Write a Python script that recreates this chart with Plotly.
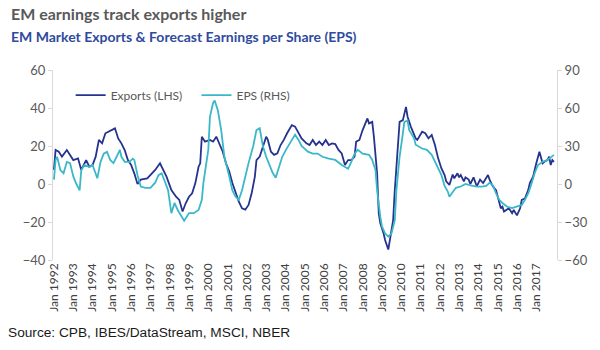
import plotly.graph_objects as go

# ---------------- data ----------------
export_dates = [
    "1992-01", "1992-02", "1992-04", "1992-06", "1992-09", "1992-11", "1993-01", "1993-04", "1993-06", "1993-09",
    "1993-11", "1994-01", "1994-03", "1994-05", "1994-07", "1994-09", "1994-11", "1995-03", "1995-05", "1995-07",
    "1995-09", "1995-11", "1996-01", "1996-03", "1996-05", "1996-07", "1996-11", "1997-04", "1997-07", "1997-09",
    "1997-11", "1998-02", "1998-05", "1998-07", "1998-09", "1998-11", "1999-01", "1999-03", "1999-05", "1999-07",
    "1999-08", "1999-09", "1999-11", "2000-02", "2000-04", "2000-06", "2000-08", "2000-10", "2000-12", "2001-02",
    "2001-04", "2001-06", "2001-08", "2001-10", "2001-12", "2002-02", "2002-04", "2002-06", "2002-07", "2002-09",
    "2002-11", "2003-01", "2003-02", "2003-04", "2003-06", "2003-08", "2003-10", "2003-12", "2004-02", "2004-05",
    "2004-07", "2004-09", "2004-11", "2005-02", "2005-04", "2005-06", "2005-08", "2005-10", "2005-12", "2006-02",
    "2006-04", "2006-06", "2006-08", "2006-10", "2006-12", "2007-02", "2007-04", "2007-06", "2007-08", "2007-09",
    "2007-11", "2008-01", "2008-03", "2008-04", "2008-05", "2008-07", "2008-08", "2008-10", "2008-11", "2008-12",
    "2009-02", "2009-03", "2009-05", "2009-06", "2009-08", "2009-09", "2009-11", "2009-12", "2010-02", "2010-04",
    "2010-05", "2010-07", "2010-10", "2010-11", "2011-02", "2011-04", "2011-06", "2011-08", "2011-10", "2011-12",
    "2012-02", "2012-04", "2012-05", "2012-07", "2012-09", "2012-10", "2012-12", "2013-01", "2013-02", "2013-04",
    "2013-05", "2013-07", "2013-08", "2013-10", "2013-12", "2014-02", "2014-04", "2014-06", "2014-07", "2014-08",
    "2014-10", "2014-12", "2015-01", "2015-03", "2015-04", "2015-05", "2015-08", "2015-10", "2015-11", "2016-01",
    "2016-03", "2016-04", "2016-06", "2016-08", "2016-09", "2016-11", "2017-01", "2017-02", "2017-03", "2017-05",
    "2017-06", "2017-08", "2017-09", "2017-10", "2017-11", "2017-12",
]
export_values = [
    7.4, 17.9, 17, 14.4, 17.9, 15.3, 12.6, 13.5, 7.4, 12.6,
    9.1, 10, 14.4, 23.2, 21.4, 26.7, 27.5, 29.3, 24, 21.4,
    17.9, 12.6, 10, 5.6, 0, 2.3, 3, 7.4, 10.9, 7.4,
    3.9, -3.2, -6.7, -8.4, -14.5, -10, -6.7, -4.9, 0.5, 9.1,
    10.9, 24.9, 22.3, 23.2, 22.3, 24.9, 21.4, 17, 10.9, 6.5,
    0.5, -4.9, -9.3, -12.8, -13.5, -11, -4.9, 3.9, 12.6, 14.4,
    19.6, 24.9, 23.2, 17, 15.3, 16.1, 20.5, 23.2, 26.7, 31,
    30.2, 26.7, 24, 21.4, 20.5, 23.2, 20.5, 22.3, 20.5, 23.2,
    20.5, 21.4, 21, 17.9, 16.1, 10, 12.6, 12.6, 14.4, 22.3,
    23.2, 28.4, 31.9, 34.5, 31.9, 32.7, 24.9, 5.6, -15.4, -20.7,
    -26, -29.5, -34.5, -29.5, -19, -3.2, 17.9, 32.7, 33.6, 40.6,
    35.4, 30.2, 24, 23.2, 27.5, 26.7, 24, 25.8, 20.5, 13.5,
    8.2, 4.7, 1.4, -0.5, 5, 3, 5.6, 3.5, 4.7, 1.4,
    3.5, 2.3, 0, 3.5, -1.2, 2.3, 0.5, 3, 4.7, 2.3,
    -1.2, -3.2, -6.7, -12.8, -11.9, -14.5, -12.8, -15.4, -13.7, -16.5,
    -12.8, -8.4, -7.6, -3.2, 0.5, 3.9, 10.9, 14.4, 17, 10.9,
    11.7, 12.6, 14.4, 10, 12.6, 11.7,
]

eps_dates = [
    "1992-01", "1992-02", "1992-03", "1992-05", "1992-07", "1992-09", "1992-11", "1993-01", "1993-03", "1993-05",
    "1993-06", "1993-08", "1993-11", "1994-01", "1994-04", "1994-06", "1994-08", "1994-10", "1994-12", "1995-02",
    "1995-04", "1995-06", "1995-07", "1995-09", "1995-12", "1996-02", "1996-03", "1996-05", "1996-07", "1996-10",
    "1997-01", "1997-04", "1997-06", "1997-08", "1997-10", "1997-12", "1998-02", "1998-04", "1998-06", "1998-10",
    "1999-01", "1999-04", "1999-07", "1999-09", "1999-10", "2000-01", "2000-02", "2000-04", "2000-05", "2000-07",
    "2000-09", "2000-11", "2001-02", "2001-04", "2001-06", "2001-08", "2001-10", "2001-12", "2002-02", "2002-05",
    "2002-07", "2002-09", "2002-11", "2003-01", "2003-03", "2003-05", "2003-07", "2003-09", "2003-11", "2004-02",
    "2004-05", "2004-07", "2004-09", "2004-11", "2005-03", "2005-06", "2005-09", "2005-12", "2006-04", "2006-08",
    "2006-12", "2007-04", "2007-06", "2007-08", "2007-10", "2008-01", "2008-05", "2008-07", "2008-09", "2008-10",
    "2008-12", "2009-01", "2009-03", "2009-05", "2009-07", "2009-09", "2009-10", "2009-12", "2010-02", "2010-03",
    "2010-05", "2010-06", "2010-09", "2010-10", "2011-02", "2011-05", "2011-08", "2011-11", "2012-02", "2012-04",
    "2012-06", "2012-07", "2012-09", "2012-11", "2013-02", "2013-05", "2013-08", "2013-12", "2014-03", "2014-06",
    "2014-08", "2014-10", "2014-12", "2015-02", "2015-04", "2015-07", "2015-10", "2016-01", "2016-04", "2016-06",
    "2016-08", "2016-10", "2016-12", "2017-02", "2017-05", "2017-08", "2017-11", "2017-12",
]
eps_values = [
    3.5, 19, 21.5, 11, 8.5, 17.5, 16.5, 6, 0, -5,
    11, 15, 13.5, 15, 4.5, 17.5, 24, 25.5, 19, 16.5,
    21.5, 27, 21.5, 17.5, 17.5, 20, 19, 7, -2, -3,
    -3, 1, 7, 8.5, 2, -5, -23, -15, -20.5, -29,
    -23, -23, -20.5, -12.5, 1, 27, 53, 64, 66, 58,
    42.5, 21.5, 6, -5, -10, -12.5, -5, 6, 16.5, 30,
    42.5, 44, 29.5, 21.5, 15.5, 9, 5, 13, 21.5, 28.5,
    35, 39, 35, 30, 25.5, 24, 24, 21.5, 20, 19,
    15, 12, 17.5, 24, 27, 24, 23, 19, 11, -5,
    -26, -33.5, -39, -41.5, -39, -28.5, -5, 21.5, 40, 49,
    50, 42.5, 36, 31, 28, 27, 23, 15, 7, -1.5,
    -6, -10, -6, -3, -2, 0, -1, -2, -2, -1.5,
    1, -1, -7.5, -12.5, -15, -18, -19, -18, -16.5, -12.5,
    -7.5, 0, 8.5, 15, 17.5, 19, 21.5, 23,
]

year_ticks = [f"{y}-01-01" for y in range(1992, 2018)]
year_labels = [f"Jan {y}" for y in range(1992, 2018)]
left_ticks = [-40, -20, 0, 20, 40, 60]
right_ticks = [-60, -30, 0, 30, 60, 90]

# ---------------- style ----------------
EXP_COLOR = "#25338f"
EPS_COLOR = "#3bb8c8"
AXIS_GREY = "#d9d9d9"
TEXT_GREY = "#595959"
FONT = "Lato"
X_RANGE = ["1991-12-14", "2018-01-28"]

fig = go.Figure()
fig.add_trace(go.Scatter(x=export_dates, y=export_values, name="Exports (LHS)\u00a0\u00a0\u00a0", mode="lines",
                         line=dict(color=EXP_COLOR, width=1.8), yaxis="y"))
fig.add_trace(go.Scatter(x=eps_dates, y=eps_values, name="EPS (RHS)", mode="lines",
                         line=dict(color=EPS_COLOR, width=1.8), yaxis="y2"))

fig.update_layout(
    width=600, height=350,
    margin=dict(l=53, r=37, t=70, b=90),
    paper_bgcolor="white", plot_bgcolor="white",
    font=dict(family=FONT, color=TEXT_GREY, size=12),
    showlegend=True,
    legend=dict(orientation="h", x=0.035, y=0.868, xanchor="left", yanchor="middle",
                bgcolor="rgba(0,0,0,0)", font=dict(size=12, color=TEXT_GREY, family=FONT),
                traceorder="normal"),
    xaxis=dict(type="date", range=X_RANGE, tickvals=year_ticks, ticktext=year_labels,
               tickangle=-90, showgrid=False, showline=False, zeroline=False, ticks="",
               tickfont=dict(size=12, color="#404040", family=FONT)),
    xaxis2=dict(type="date", range=X_RANGE, overlaying="x", anchor="free", position=0.4,
                showline=True, linecolor=AXIS_GREY, linewidth=1, ticks="outside", ticklen=4,
                tickcolor=AXIS_GREY, tickvals=year_ticks, showticklabels=False, showgrid=False,
                zeroline=False),
    yaxis=dict(range=[-40, 60], tickvals=left_ticks, showgrid=False, zeroline=False,
               showline=True, linecolor=AXIS_GREY, ticks="outside", ticklen=4, tickcolor=AXIS_GREY,
               tickfont=dict(size=13, color=TEXT_GREY, family=FONT)),
    yaxis2=dict(range=[-60, 90], tickvals=right_ticks, overlaying="y", side="right",
                showgrid=False, zeroline=False, showline=True, linecolor=AXIS_GREY,
                ticks="outside", ticklen=4, tickcolor=AXIS_GREY,
                tickfont=dict(size=13, color=TEXT_GREY, family=FONT)),
)

fig.add_annotation(text="<b>EM earnings track exports higher</b>", xref="paper", yref="paper",
                   x=-0.088, y=1.295, xanchor="left", yanchor="middle", showarrow=False,
                   font=dict(size=16, color=TEXT_GREY, family=FONT))
fig.add_annotation(text="<b>EM Market Exports &amp; Forecast Earnings per Share (EPS)</b>", xref="paper", yref="paper",
                   x=-0.088, y=1.174, xanchor="left", yanchor="middle", showarrow=False,
                   font=dict(size=14, color="#2f4a9e", family=FONT))
fig.add_annotation(text="Source: CPB, IBES/DataStream, MSCI, NBER", xref="paper", yref="paper",
                   x=-0.094, y=-0.384, xanchor="left", yanchor="middle", showarrow=False,
                   font=dict(size=13.7, color="#1a1a1a", family="Liberation Sans"))

fig.write_html("out.html")
